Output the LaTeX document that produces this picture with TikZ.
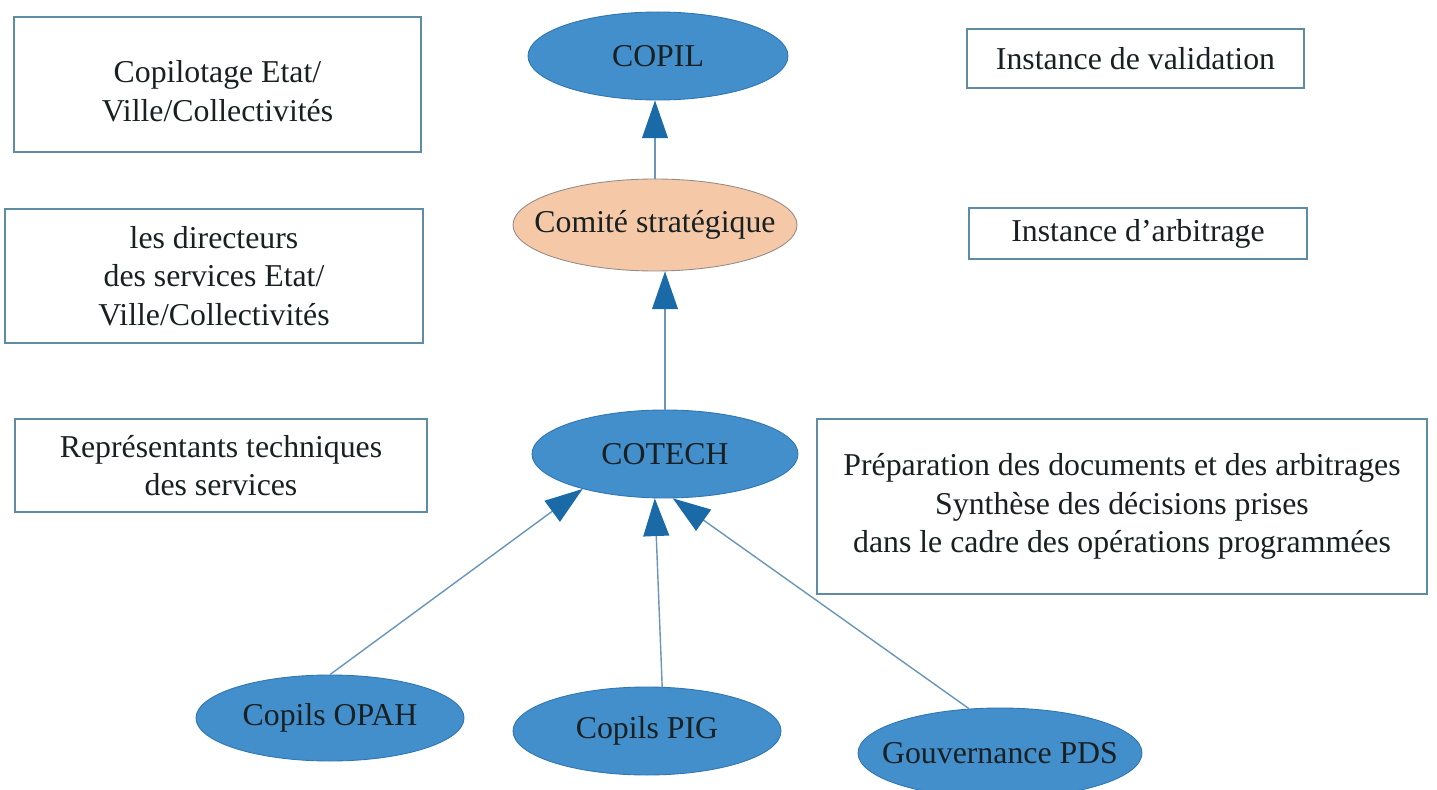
\documentclass[tikz,border=0pt]{standalone}
\usepackage{fontspec}
\setmainfont{Liberation Serif}
\usetikzlibrary{shapes.geometric,arrows.meta}
\definecolor{ellblue}{RGB}{66,143,203}
\definecolor{ellborder}{RGB}{48,118,178}
\definecolor{orangefill}{RGB}{245,201,168}
\definecolor{orangeborder}{RGB}{150,140,135}
\definecolor{arrowblue}{RGB}{26,106,168}
\definecolor{linecol}{RGB}{105,150,185}
\definecolor{boxline}{RGB}{95,140,165}
\definecolor{txt}{RGB}{25,32,34}
\newcommand{\pxu}[1]{#1*0.02cm}
\begin{document}
\begin{tikzpicture}[x=0.02cm,y=-0.02cm,
  every node/.style={font=\fontsize{18.1}{21.8}\selectfont, text=txt},
  infobox/.style={draw=boxline, line width=0.6pt, rectangle, align=center, inner sep=0pt},
  oval/.style={ellipse, draw=ellborder, line width=0.5pt, fill=ellblue, inner sep=0pt},
  conn/.style={draw=linecol, line width=0.8pt, -{Triangle[length=21.5pt,width=14.7pt,color=arrowblue]}}]
\useasboundingbox[fill=white] (0,0) rectangle (1437,790);

% info boxes
\node[infobox, minimum width=\pxu{407}, minimum height=\pxu{135}] (b1) at (217.5,84.5) {\raisebox{-0.35cm}[0pt][0pt]{\begin{tabular}{@{}c@{}}Copilotage Etat/\\Ville/Collectivités\end{tabular}}};
\node[infobox, minimum width=\pxu{337}, minimum height=\pxu{59}] (b2) at (1135.5,58.5) {Instance de validation};
\node[infobox, minimum width=\pxu{418}, minimum height=\pxu{134}] (b3) at (214,276) {les directeurs\\des services Etat/\\Ville/Collectivités};
\node[infobox, minimum width=\pxu{338}, minimum height=\pxu{51}] (b4) at (1138,233.5) {Instance d’arbitrage};
\node[infobox, minimum width=\pxu{412}, minimum height=\pxu{93}] (b5) at (221,465.5) {Représentants techniques\\des services};
\node[infobox, minimum width=\pxu{610}, minimum height=\pxu{175}] (b6) at (1122,506.5) {Préparation des documents et des arbitrages\\Synthèse des décisions prises\\dans le cadre des opérations programmées};

% ellipses
\node[oval, minimum width=\pxu{260}, minimum height=\pxu{88}] (copil) at (658,56) {\makebox[0pt]{COPIL}};
\node[oval, fill=orangefill, draw=orangeborder, minimum width=\pxu{284}, minimum height=\pxu{92}] (comite) at (655,225) {\makebox[0pt]{Comité stratégique}};
\node[oval, minimum width=\pxu{266}, minimum height=\pxu{88}] (cotech) at (665,454) {\makebox[0pt]{COTECH}};
\node[oval, minimum width=\pxu{268}, minimum height=\pxu{86}] (opah) at (330,718) {\makebox[0pt]{Copils OPAH}};
\node[oval, minimum width=\pxu{268}, minimum height=\pxu{88}] (pig) at (647,731) {\makebox[0pt]{Copils PIG}};
\node[oval, minimum width=\pxu{284}, minimum height=\pxu{90}] (pds) at (1000,753) {\makebox[0pt]{Gouvernance PDS}};

% connectors
\draw[conn] (comite.north) -- (comite.north |- copil.south);
\draw[conn] (cotech.north) -- (cotech.north |- comite.south);
\draw[conn] (opah.north) -- (cotech.203);
\draw[conn] (pig.71) -- (cotech.257);
\draw[conn] (pds.125) -- (cotech.280);
\end{tikzpicture}
\end{document}
